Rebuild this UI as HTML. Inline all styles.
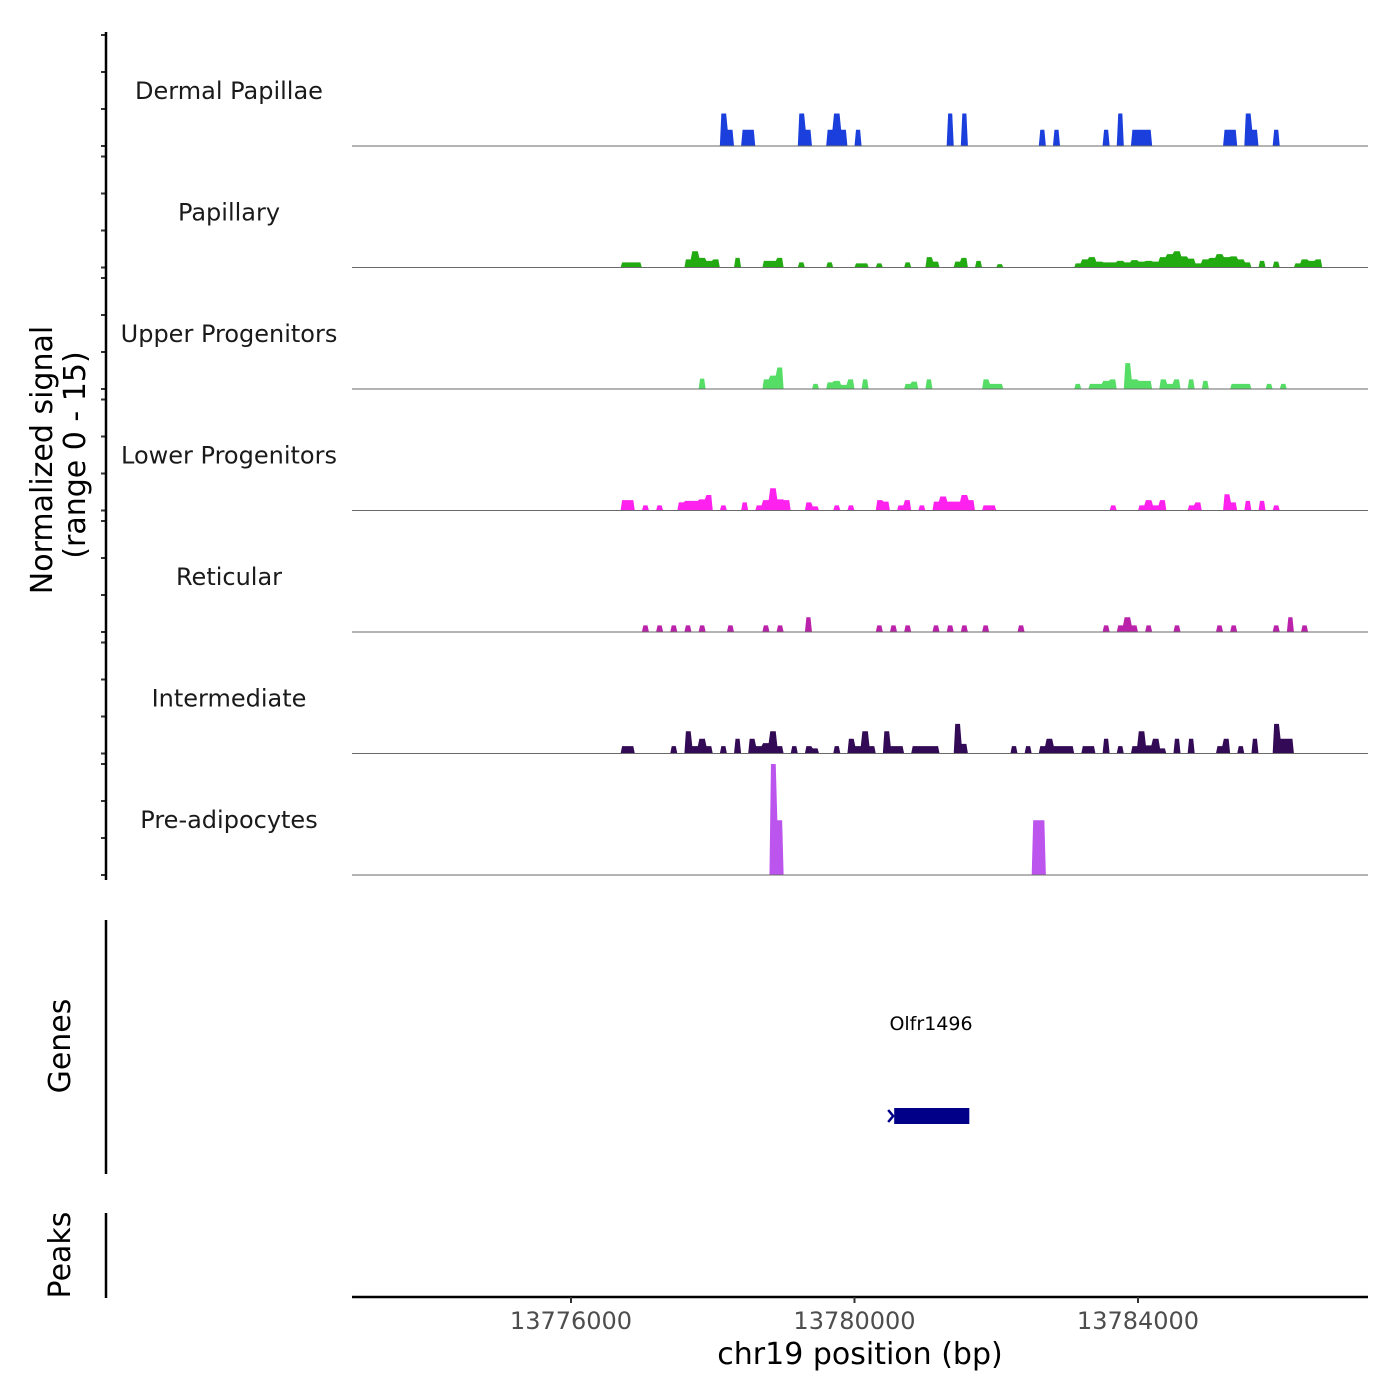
<!DOCTYPE html>
<html><head><meta charset="utf-8"><style>
html,body{margin:0;padding:0;background:#fff}
svg{display:block}
text{font-family:"DejaVu Sans","Liberation Sans",sans-serif}
</style></head><body>
<svg id="chart" width="1400" height="1400" viewBox="0 0 1400 1400" xmlns="http://www.w3.org/2000/svg">
<rect width="1400" height="1400" fill="#fff"/>
<g id="tracks"></g>
<g id="axes"></g>
</svg>
<script>
const binSize = 100;
const trackNames = ["Dermal Papillae","Papillary","Upper Progenitors","Lower Progenitors","Reticular","Intermediate","Pre-adipocytes"];
const trackColors = ["#1a3fdd","#22aa11","#55dd66","#ff22ee","#bb22aa","#330a55","#bb55ee"];
const xTicks = [13776000,13780000,13784000];
const yTicks = [0,5,10,15];

const dpPos=[13778100,13778200,13778400,13778500,13779200,13779300,13779600,13779700,13779800,13780000,13781300,13781500,13782600,13782800,13783500,13783700,13783900,13784000,13784100,13785200,13785300,13785500,13785600,13785900];
const dpVal=[4.4,2.2,2.2,2.2,4.4,2.2,2.2,4.4,2.2,2.2,4.4,4.4,2.2,2.2,2.2,4.4,2.2,2.2,2.2,2.2,2.2,4.4,2.2,2.2];

const papPos=[13776700,13776800,13776900,13777600,13777700,13777800,13777900,13778000,13778300,13778700,13778800,13778900,13779200,13779600,13780000,13780100,13780300,13780700,13781000,13781100,13781400,13781500,13781700,13782000,13783100,13783200,13783300,13783400,13783500,13783600,13783700,13783800,13783900,13784000,13784100,13784200,13784300,13784400,13784500,13784600,13784700,13784800,13784900,13785000,13785100,13785200,13785300,13785400,13785500,13785700,13785900,13786200,13786300,13786400,13786500];
const papVal=[0.7,0.7,0.7,1.1,2.2,1.3,0.9,1.1,1.3,0.9,0.9,1.3,0.7,0.7,0.55,0.55,0.55,0.7,1.4,0.8,0.8,1.3,0.9,0.45,0.55,1.1,1.4,0.8,0.7,0.7,0.9,0.7,1,0.8,0.9,0.8,1.4,1.8,2.2,1.5,1.2,0.55,1.1,1.3,1.8,1.4,1.5,1.1,0.7,0.9,0.8,0.55,1.1,0.9,1.1];

const upPos=[13777800,13778700,13778800,13778900,13779400,13779600,13779700,13779800,13779900,13780100,13780700,13780800,13781000,13781800,13781900,13782000,13783100,13783300,13783400,13783500,13783600,13783800,13783900,13784000,13784100,13784300,13784400,13784500,13784700,13784900,13785300,13785400,13785500,13785800,13786000];
const upVal=[1.4,1.3,1.8,2.9,0.7,0.9,1.1,0.55,1.3,1.3,0.7,1,1.3,1.3,0.7,0.7,0.7,0.7,0.7,1.1,1.3,3.5,1.3,1.1,1.1,1.3,0.7,1.3,1.3,1.1,0.7,0.7,0.7,0.7,0.7];

const lowPos=[13776700,13776800,13777000,13777200,13777500,13777600,13777700,13777800,13777900,13778100,13778400,13778600,13778700,13778800,13778900,13779000,13779300,13779400,13779700,13779900,13780300,13780400,13780600,13780700,13780900,13781100,13781200,13781300,13781400,13781500,13781600,13781800,13781900,13783600,13784000,13784100,13784200,13784300,13784700,13784800,13785200,13785300,13785500,13785700,13785900];
const lowVal=[1.4,1.4,0.7,0.7,1.1,1.3,1.3,1.5,2.1,0.7,1.1,0.7,1.4,3,1.5,1.4,1.1,0.55,0.7,0.7,1.4,1.2,0.7,1.4,0.7,1.2,1.9,1.2,1.2,2.1,1.4,0.7,0.7,0.7,0.7,1.4,0.7,1.4,0.7,1.1,2.2,1.1,1.3,1.3,0.7];

const retPos=[13777000,13777200,13777400,13777600,13777800,13778200,13778700,13778900,13779300,13780300,13780500,13780700,13781100,13781300,13781500,13781800,13782300,13783500,13783700,13783800,13783900,13784100,13784500,13785100,13785300,13785900,13786100,13786300];
const retVal=[0.9,0.9,0.9,0.9,0.9,0.9,0.9,0.9,2,0.9,0.9,0.9,0.9,0.9,0.9,0.9,0.9,0.9,0.9,2,0.9,0.9,0.9,0.9,0.9,0.9,2,0.9];

const intPos=[13776700,13776800,13777400,13777600,13777700,13777800,13777900,13778100,13778300,13778500,13778600,13778700,13778800,13778900,13779100,13779300,13779400,13779700,13779900,13780000,13780100,13780200,13780400,13780500,13780600,13780800,13780900,13781000,13781100,13781400,13781500,13782200,13782400,13782600,13782700,13782800,13782900,13783000,13783200,13783300,13783500,13783700,13783900,13784000,13784100,13784200,13784300,13784500,13784700,13785100,13785200,13785400,13785600,13785900,13786000,13786100];
const intVal=[1,1,1,3,1,2,1,1,2,2,1,1.4,3,1,1,1,0.7,1,2,1,3,1,3,1,1,1,1,1,1,4,1.3,1,1,1,2,1,1,1,1,1,2,1,1,3,1.1,2,0.7,2,2,1,2,1,2,4,2,2];

const prePos=[13778800,13778900,13782500,13782600];
const preVal=[15,7.4,7.4,7.4];

const trackPos=[dpPos,papPos,upPos,lowPos,retPos,intPos,prePos];
const trackVal=[dpVal,papVal,upVal,lowVal,retVal,intVal,preVal];

const NS="http://www.w3.org/2000/svg";
const plotL=352, plotR=1368;
function xScale(bp){return 571 + (bp-13776000)*283.5/4000;}
const firstBase=146, trackStep=121.5, unitPx=7.4;
function yScale(k,v){return firstBase + k*trackStep - v*unitPx;}
function mk(tag,attrs,parent){const e=document.createElementNS(NS,tag);for(const k in attrs)e.setAttribute(k,attrs[k]);parent.appendChild(e);return e;}

const tracksG=document.getElementById('tracks');
const axesG=document.getElementById('axes');

for(let k=0;k<trackNames.length;k++){
  const g=mk('g',{},tracksG);
  
  
  const base=yScale(k,0);
  const pos=trackPos[k], val=trackVal[k];
  // group consecutive bins into runs
  let i=0;
  while(i<pos.length){
    let j=i;
    while(j+1<pos.length && pos[j+1]-pos[j]===binSize) j++;
    const pts=[];
    const s=0.8;
    pts.push([xScale(pos[i]),base]);
    for(let m=i;m<=j;m++){
      const x0=xScale(pos[m]), x1=xScale(pos[m]+binSize), y=yScale(k,val[m]);
      const l = m===i ? x0+1.5 : x0+s;
      const r = m===j ? x1-1.5 : x1-s;
      pts.push([l,y]); pts.push([r,y]);
    }
    pts.push([xScale(pos[j]+binSize),base]);
    const p=mk('polygon',{points:pts.map(q=>q[0].toFixed(2)+','+q[1].toFixed(2)).join(' '),fill:trackColors[k]},g);
    
    
    i=j+1;
  }
  const bl=mk('line',{x1:plotL,x2:plotR,y1:base,y2:base,stroke:'#6a6a6a','stroke-width':1},g);
  
  
  const lb=mk('text',{x:229,y:base-47,'text-anchor':'middle','font-size':24,fill:'#1a1a1a'},g);
  lb.textContent=trackNames[k];
  
  
  for(const t of yTicks){
    const ty=yScale(k,t);
    const tk=mk('line',{x1:101,x2:106,y1:ty,y2:ty,stroke:'#333','stroke-width':2},axesG);
    
    
  }
}
const yl=mk('line',{x1:106,x2:106,y1:32,y2:880,stroke:'#000','stroke-width':2.5},axesG);


const gl=mk('line',{x1:106,x2:106,y1:920,y2:1174,stroke:'#000','stroke-width':2.5},axesG);


const pl=mk('line',{x1:106,x2:106,y1:1213,y2:1298,stroke:'#000','stroke-width':2.5},axesG);



const yt1=mk('text',{x:0,y:0,'text-anchor':'middle','font-size':30,fill:'#000',transform:'translate(52,460) rotate(-90)'},axesG);
yt1.textContent='Normalized signal';


const yt2=mk('text',{x:0,y:0,'text-anchor':'middle','font-size':30,fill:'#000',transform:'translate(85,455) rotate(-90)'},axesG);
yt2.textContent='(range 0 - 15)';


const gt=mk('text',{x:0,y:0,'text-anchor':'middle','font-size':30,fill:'#000',transform:'translate(70,1046) rotate(-90)'},axesG);
gt.textContent='Genes';


const pt=mk('text',{x:0,y:0,'text-anchor':'middle','font-size':30,fill:'#000',transform:'translate(70,1255) rotate(-90)'},axesG);
pt.textContent='Peaks';



const geneStart=13780560, geneEnd=13781620;
const gr=mk('rect',{x:xScale(geneStart),y:1108,width:xScale(geneEnd)-xScale(geneStart),height:16,fill:'#000088'},axesG);


const ga=mk('path',{d:`M${xScale(geneStart)-6},1110 L${xScale(geneStart)-1},1116 L${xScale(geneStart)-6},1122`,stroke:'#000088','stroke-width':2.5,fill:'none'},axesG);


const gtx=mk('text',{x:931,y:1030,'text-anchor':'middle','font-size':19,fill:'#000'},axesG);
gtx.textContent='Olfr1496';



const xl=mk('line',{x1:plotL,x2:plotR,y1:1297,y2:1297,stroke:'#000','stroke-width':2.5},axesG);


for(const t of xTicks){
  const tx=xScale(t);
  const tk=mk('line',{x1:tx,x2:tx,y1:1297,y2:1303,stroke:'#333','stroke-width':2},axesG);
  
  
  const tl=mk('text',{x:tx,y:1329,'text-anchor':'middle','font-size':24,fill:'#4d4d4d'},axesG);
  tl.textContent=String(t);
  
  
}
const xt=mk('text',{x:860,y:1364,'text-anchor':'middle','font-size':30,fill:'#000'},axesG);
xt.textContent='chr19 position (bp)';


</script>
</body></html>
